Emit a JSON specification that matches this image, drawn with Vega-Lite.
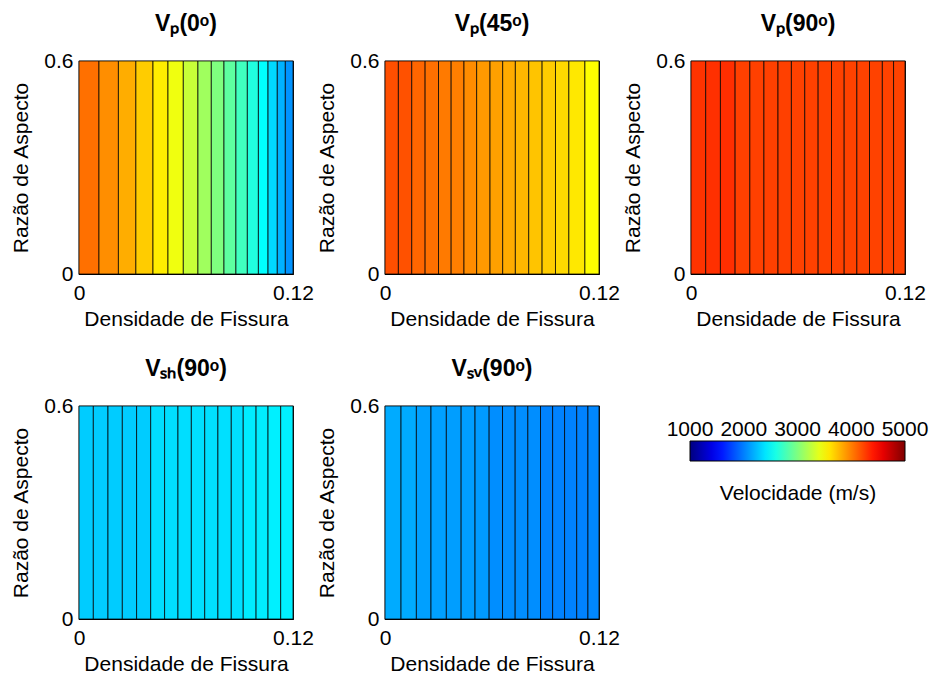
{
  "$schema": "https://vega.github.io/schema/vega-lite/v6.json",
  "background": "white",
  "padding": {"left": 10, "top": 12, "right": 5, "bottom": 5},
  "bounds": "flush",
  "columns": 3,
  "spacing": {"row": 132, "column": 92},
  "config": {
    "view": {"stroke": "black", "strokeWidth": 1.2},
    "font": "Liberation Sans",
    "axis": {"labelFont": "Liberation Sans", "labelFontSize": 21, "titleFont": "Liberation Sans", "titleFontSize": 21, "titleFontWeight": "normal", "labelColor": "black", "titleColor": "black", "ticks": false, "grid": false, "domain": false},
    "title": {"font": "Liberation Sans", "fontSize": 23, "fontWeight": "bold", "color": "black", "offset": 14},
    "legend": {"labelFont": "Liberation Sans", "titleFont": "Liberation Sans"}
  },
  "datasets": {
    "strips": [
      {"panel": "VP0", "x0": 0, "x1": 0.0112, "velocidade": 4060},
      {"panel": "VP0", "x0": 0.0112, "x1": 0.0221, "velocidade": 3940},
      {"panel": "VP0", "x0": 0.0221, "x1": 0.0319, "velocidade": 3820},
      {"panel": "VP0", "x0": 0.0319, "x1": 0.0415, "velocidade": 3700},
      {"panel": "VP0", "x0": 0.0415, "x1": 0.0499, "velocidade": 3570},
      {"panel": "VP0", "x0": 0.0499, "x1": 0.0585, "velocidade": 3440},
      {"panel": "VP0", "x0": 0.0585, "x1": 0.0667, "velocidade": 3280},
      {"panel": "VP0", "x0": 0.0667, "x1": 0.0742, "velocidade": 3130},
      {"panel": "VP0", "x0": 0.0742, "x1": 0.0813, "velocidade": 3000},
      {"panel": "VP0", "x0": 0.0813, "x1": 0.088, "velocidade": 2870},
      {"panel": "VP0", "x0": 0.088, "x1": 0.0944, "velocidade": 2750},
      {"panel": "VP0", "x0": 0.0944, "x1": 0.1006, "velocidade": 2625},
      {"panel": "VP0", "x0": 0.1006, "x1": 0.106, "velocidade": 2500},
      {"panel": "VP0", "x0": 0.106, "x1": 0.1112, "velocidade": 2350},
      {"panel": "VP0", "x0": 0.1112, "x1": 0.1157, "velocidade": 2200},
      {"panel": "VP0", "x0": 0.1157, "x1": 0.12, "velocidade": 2080},

      {"panel": "VP45", "x0": 0, "x1": 0.0075, "velocidade": 4190},
      {"panel": "VP45", "x0": 0.0075, "x1": 0.015, "velocidade": 4180},
      {"panel": "VP45", "x0": 0.015, "x1": 0.0225, "velocidade": 4100},
      {"panel": "VP45", "x0": 0.0225, "x1": 0.03, "velocidade": 4060},
      {"panel": "VP45", "x0": 0.03, "x1": 0.0371, "velocidade": 4020},
      {"panel": "VP45", "x0": 0.0371, "x1": 0.0443, "velocidade": 4000},
      {"panel": "VP45", "x0": 0.0443, "x1": 0.0514, "velocidade": 3950},
      {"panel": "VP45", "x0": 0.0514, "x1": 0.0589, "velocidade": 3900},
      {"panel": "VP45", "x0": 0.0589, "x1": 0.066, "velocidade": 3870},
      {"panel": "VP45", "x0": 0.066, "x1": 0.0731, "velocidade": 3830},
      {"panel": "VP45", "x0": 0.0731, "x1": 0.0806, "velocidade": 3780},
      {"panel": "VP45", "x0": 0.0806, "x1": 0.0881, "velocidade": 3730},
      {"panel": "VP45", "x0": 0.0881, "x1": 0.0956, "velocidade": 3700},
      {"panel": "VP45", "x0": 0.0956, "x1": 0.1031, "velocidade": 3650},
      {"panel": "VP45", "x0": 0.1031, "x1": 0.1121, "velocidade": 3590},
      {"panel": "VP45", "x0": 0.1121, "x1": 0.12, "velocidade": 3500},

      {"panel": "VP90", "x0": 0, "x1": 0.00825, "velocidade": 4300},
      {"panel": "VP90", "x0": 0.00825, "x1": 0.0165, "velocidade": 4310},
      {"panel": "VP90", "x0": 0.0165, "x1": 0.02475, "velocidade": 4320},
      {"panel": "VP90", "x0": 0.02475, "x1": 0.033, "velocidade": 4250},
      {"panel": "VP90", "x0": 0.033, "x1": 0.0409, "velocidade": 4250},
      {"panel": "VP90", "x0": 0.0409, "x1": 0.0488, "velocidade": 4250},
      {"panel": "VP90", "x0": 0.0488, "x1": 0.0563, "velocidade": 4250},
      {"panel": "VP90", "x0": 0.0563, "x1": 0.0638, "velocidade": 4245},
      {"panel": "VP90", "x0": 0.0638, "x1": 0.0713, "velocidade": 4245},
      {"panel": "VP90", "x0": 0.0713, "x1": 0.0788, "velocidade": 4245},
      {"panel": "VP90", "x0": 0.0788, "x1": 0.0859, "velocidade": 4245},
      {"panel": "VP90", "x0": 0.0859, "x1": 0.093, "velocidade": 4240},
      {"panel": "VP90", "x0": 0.093, "x1": 0.1001, "velocidade": 4240},
      {"panel": "VP90", "x0": 0.1001, "x1": 0.1073, "velocidade": 4240},
      {"panel": "VP90", "x0": 0.1073, "x1": 0.1136, "velocidade": 4240},
      {"panel": "VP90", "x0": 0.1136, "x1": 0.12, "velocidade": 4240},

      {"panel": "VSH90", "x0": 0, "x1": 0.00804, "velocidade": 2300},
      {"panel": "VSH90", "x0": 0.00804, "x1": 0.01626, "velocidade": 2300},
      {"panel": "VSH90", "x0": 0.01626, "x1": 0.0243, "velocidade": 2300},
      {"panel": "VSH90", "x0": 0.0243, "x1": 0.0323, "velocidade": 2300},
      {"panel": "VSH90", "x0": 0.0323, "x1": 0.0402, "velocidade": 2300},
      {"panel": "VSH90", "x0": 0.0402, "x1": 0.048, "velocidade": 2370},
      {"panel": "VSH90", "x0": 0.048, "x1": 0.0555, "velocidade": 2370},
      {"panel": "VSH90", "x0": 0.0555, "x1": 0.063, "velocidade": 2370},
      {"panel": "VSH90", "x0": 0.063, "x1": 0.0705, "velocidade": 2380},
      {"panel": "VSH90", "x0": 0.0705, "x1": 0.0779, "velocidade": 2380},
      {"panel": "VSH90", "x0": 0.0779, "x1": 0.0854, "velocidade": 2380},
      {"panel": "VSH90", "x0": 0.0854, "x1": 0.0921, "velocidade": 2380},
      {"panel": "VSH90", "x0": 0.0921, "x1": 0.0993, "velocidade": 2430},
      {"panel": "VSH90", "x0": 0.0993, "x1": 0.106, "velocidade": 2430},
      {"panel": "VSH90", "x0": 0.106, "x1": 0.1131, "velocidade": 2440},
      {"panel": "VSH90", "x0": 0.1131, "x1": 0.12, "velocidade": 2440},

      {"panel": "VSV90", "x0": 0, "x1": 0.00899, "velocidade": 2170},
      {"panel": "VSV90", "x0": 0.00899, "x1": 0.0176, "velocidade": 2170},
      {"panel": "VSV90", "x0": 0.0176, "x1": 0.0258, "velocidade": 2130},
      {"panel": "VSV90", "x0": 0.0258, "x1": 0.0344, "velocidade": 2130},
      {"panel": "VSV90", "x0": 0.0344, "x1": 0.0427, "velocidade": 2120},
      {"panel": "VSV90", "x0": 0.0427, "x1": 0.0505, "velocidade": 2120},
      {"panel": "VSV90", "x0": 0.0505, "x1": 0.0584, "velocidade": 2110},
      {"panel": "VSV90", "x0": 0.0584, "x1": 0.0659, "velocidade": 2060},
      {"panel": "VSV90", "x0": 0.0659, "x1": 0.073, "velocidade": 2060},
      {"panel": "VSV90", "x0": 0.073, "x1": 0.0801, "velocidade": 2060},
      {"panel": "VSV90", "x0": 0.0801, "x1": 0.0872, "velocidade": 2060},
      {"panel": "VSV90", "x0": 0.0872, "x1": 0.094, "velocidade": 2010},
      {"panel": "VSV90", "x0": 0.094, "x1": 0.1007, "velocidade": 2010},
      {"panel": "VSV90", "x0": 0.1007, "x1": 0.1075, "velocidade": 2010},
      {"panel": "VSV90", "x0": 0.1075, "x1": 0.1138, "velocidade": 2010},
      {"panel": "VSV90", "x0": 0.1138, "x1": 0.12, "velocidade": 2030}
    ]
  },
  "resolve": {"scale": {"color": "shared"}},
  "concat": [
    {
      "width": 214, "height": 213, "title": "Vₚ(0ᵒ)",
      "data": {"name": "strips"},
      "transform": [{"filter": "datum.panel == 'VP0'"}],
      "mark": {"type": "rect", "stroke": "black", "strokeWidth": 1, "strokeOpacity": 0.75},
      "encoding": {
        "x": {"field": "x0", "type": "quantitative", "scale": {"domain": [0, 0.12], "nice": false, "zero": false}, "axis": {"title": "Densidade de Fissura", "values": [0, 0.12], "labelExpr": "format(datum.value, '.2~f')", "labelPadding": 8, "titlePadding": 5, "labelFlush": false}},
        "x2": {"field": "x1"},
        "y": {"datum": 0, "type": "quantitative", "scale": {"domain": [0, 0.6], "nice": false}, "axis": {"title": "Razão de Aspecto", "values": [0, 0.6], "labelExpr": "format(datum.value, '.2~f')", "labelPadding": 6, "titlePadding": 12, "labelFlush": false}},
        "y2": {"datum": 0.6},
        "color": {"field": "velocidade", "type": "quantitative",
          "scale": {"domain": [1000, 1500, 2000, 2500, 3000, 3500, 4000, 4500, 5000], "range": ["#00007F", "#0000FF", "#007FFF", "#00FFFF", "#7FFF7F", "#FFFF00", "#FF7F00", "#FF0000", "#7F0000"], "interpolate": "rgb"},
          "legend": {"title": "Velocidade (m/s)", "orient": "none", "legendX": 611, "legendY": 380, "direction": "horizontal", "gradientLength": 215, "gradientThickness": 20, "values": [1000, 2000, 3000, 4000, 5000], "format": "d", "labelOverlap": false, "labelOffset": -42, "labelFontSize": 21, "labelColor": "black", "titleOrient": "bottom", "titleAnchor": "middle", "titleFontSize": 21, "titleFontWeight": "normal", "titleColor": "black", "titlePadding": 21, "gradientStrokeColor": "black", "gradientStrokeWidth": 1, "encoding": {"labels": {"align": {"value": "center"}}}}}
      }
    },
    {
      "width": 214, "height": 213, "title": "Vₚ(45ᵒ)",
      "data": {"name": "strips"},
      "transform": [{"filter": "datum.panel == 'VP45'"}],
      "mark": {"type": "rect", "stroke": "black", "strokeWidth": 1, "strokeOpacity": 0.75},
      "encoding": {
        "x": {"field": "x0", "type": "quantitative", "scale": {"domain": [0, 0.12], "nice": false, "zero": false}, "axis": {"title": "Densidade de Fissura", "values": [0, 0.12], "labelExpr": "format(datum.value, '.2~f')", "labelPadding": 8, "titlePadding": 5, "labelFlush": false}},
        "x2": {"field": "x1"},
        "y": {"datum": 0, "type": "quantitative", "scale": {"domain": [0, 0.6], "nice": false}, "axis": {"title": "Razão de Aspecto", "values": [0, 0.6], "labelExpr": "format(datum.value, '.2~f')", "labelPadding": 6, "titlePadding": 12, "labelFlush": false}},
        "y2": {"datum": 0.6},
        "color": {"field": "velocidade", "type": "quantitative",
          "scale": {"domain": [1000, 1500, 2000, 2500, 3000, 3500, 4000, 4500, 5000], "range": ["#00007F", "#0000FF", "#007FFF", "#00FFFF", "#7FFF7F", "#FFFF00", "#FF7F00", "#FF0000", "#7F0000"], "interpolate": "rgb"},
          "legend": {"title": "Velocidade (m/s)", "orient": "none", "legendX": 611, "legendY": 380, "direction": "horizontal", "gradientLength": 215, "gradientThickness": 20, "values": [1000, 2000, 3000, 4000, 5000], "format": "d", "labelOverlap": false, "labelOffset": -42, "labelFontSize": 21, "labelColor": "black", "titleOrient": "bottom", "titleAnchor": "middle", "titleFontSize": 21, "titleFontWeight": "normal", "titleColor": "black", "titlePadding": 21, "gradientStrokeColor": "black", "gradientStrokeWidth": 1, "encoding": {"labels": {"align": {"value": "center"}}}}}
      }
    },
    {
      "width": 214, "height": 213, "title": "Vₚ(90ᵒ)",
      "data": {"name": "strips"},
      "transform": [{"filter": "datum.panel == 'VP90'"}],
      "mark": {"type": "rect", "stroke": "black", "strokeWidth": 1, "strokeOpacity": 0.75},
      "encoding": {
        "x": {"field": "x0", "type": "quantitative", "scale": {"domain": [0, 0.12], "nice": false, "zero": false}, "axis": {"title": "Densidade de Fissura", "values": [0, 0.12], "labelExpr": "format(datum.value, '.2~f')", "labelPadding": 8, "titlePadding": 5, "labelFlush": false}},
        "x2": {"field": "x1"},
        "y": {"datum": 0, "type": "quantitative", "scale": {"domain": [0, 0.6], "nice": false}, "axis": {"title": "Razão de Aspecto", "values": [0, 0.6], "labelExpr": "format(datum.value, '.2~f')", "labelPadding": 6, "titlePadding": 12, "labelFlush": false}},
        "y2": {"datum": 0.6},
        "color": {"field": "velocidade", "type": "quantitative",
          "scale": {"domain": [1000, 1500, 2000, 2500, 3000, 3500, 4000, 4500, 5000], "range": ["#00007F", "#0000FF", "#007FFF", "#00FFFF", "#7FFF7F", "#FFFF00", "#FF7F00", "#FF0000", "#7F0000"], "interpolate": "rgb"},
          "legend": {"title": "Velocidade (m/s)", "orient": "none", "legendX": 611, "legendY": 380, "direction": "horizontal", "gradientLength": 215, "gradientThickness": 20, "values": [1000, 2000, 3000, 4000, 5000], "format": "d", "labelOverlap": false, "labelOffset": -42, "labelFontSize": 21, "labelColor": "black", "titleOrient": "bottom", "titleAnchor": "middle", "titleFontSize": 21, "titleFontWeight": "normal", "titleColor": "black", "titlePadding": 21, "gradientStrokeColor": "black", "gradientStrokeWidth": 1, "encoding": {"labels": {"align": {"value": "center"}}}}}
      }
    },
    {
      "width": 214, "height": 213, "title": "Vₛₕ(90ᵒ)",
      "data": {"name": "strips"},
      "transform": [{"filter": "datum.panel == 'VSH90'"}],
      "mark": {"type": "rect", "stroke": "black", "strokeWidth": 1, "strokeOpacity": 0.75},
      "encoding": {
        "x": {"field": "x0", "type": "quantitative", "scale": {"domain": [0, 0.12], "nice": false, "zero": false}, "axis": {"title": "Densidade de Fissura", "values": [0, 0.12], "labelExpr": "format(datum.value, '.2~f')", "labelPadding": 8, "titlePadding": 5, "labelFlush": false}},
        "x2": {"field": "x1"},
        "y": {"datum": 0, "type": "quantitative", "scale": {"domain": [0, 0.6], "nice": false}, "axis": {"title": "Razão de Aspecto", "values": [0, 0.6], "labelExpr": "format(datum.value, '.2~f')", "labelPadding": 6, "titlePadding": 12, "labelFlush": false}},
        "y2": {"datum": 0.6},
        "color": {"field": "velocidade", "type": "quantitative",
          "scale": {"domain": [1000, 1500, 2000, 2500, 3000, 3500, 4000, 4500, 5000], "range": ["#00007F", "#0000FF", "#007FFF", "#00FFFF", "#7FFF7F", "#FFFF00", "#FF7F00", "#FF0000", "#7F0000"], "interpolate": "rgb"},
          "legend": {"title": "Velocidade (m/s)", "orient": "none", "legendX": 611, "legendY": 380, "direction": "horizontal", "gradientLength": 215, "gradientThickness": 20, "values": [1000, 2000, 3000, 4000, 5000], "format": "d", "labelOverlap": false, "labelOffset": -42, "labelFontSize": 21, "labelColor": "black", "titleOrient": "bottom", "titleAnchor": "middle", "titleFontSize": 21, "titleFontWeight": "normal", "titleColor": "black", "titlePadding": 21, "gradientStrokeColor": "black", "gradientStrokeWidth": 1, "encoding": {"labels": {"align": {"value": "center"}}}}}
      }
    },
    {
      "width": 214, "height": 213, "title": "Vₛᵥ(90ᵒ)",
      "data": {"name": "strips"},
      "transform": [{"filter": "datum.panel == 'VSV90'"}],
      "mark": {"type": "rect", "stroke": "black", "strokeWidth": 1, "strokeOpacity": 0.75},
      "encoding": {
        "x": {"field": "x0", "type": "quantitative", "scale": {"domain": [0, 0.12], "nice": false, "zero": false}, "axis": {"title": "Densidade de Fissura", "values": [0, 0.12], "labelExpr": "format(datum.value, '.2~f')", "labelPadding": 8, "titlePadding": 5, "labelFlush": false}},
        "x2": {"field": "x1"},
        "y": {"datum": 0, "type": "quantitative", "scale": {"domain": [0, 0.6], "nice": false}, "axis": {"title": "Razão de Aspecto", "values": [0, 0.6], "labelExpr": "format(datum.value, '.2~f')", "labelPadding": 6, "titlePadding": 12, "labelFlush": false}},
        "y2": {"datum": 0.6},
        "color": {"field": "velocidade", "type": "quantitative",
          "scale": {"domain": [1000, 1500, 2000, 2500, 3000, 3500, 4000, 4500, 5000], "range": ["#00007F", "#0000FF", "#007FFF", "#00FFFF", "#7FFF7F", "#FFFF00", "#FF7F00", "#FF0000", "#7F0000"], "interpolate": "rgb"},
          "legend": {"title": "Velocidade (m/s)", "orient": "none", "legendX": 611, "legendY": 380, "direction": "horizontal", "gradientLength": 215, "gradientThickness": 20, "values": [1000, 2000, 3000, 4000, 5000], "format": "d", "labelOverlap": false, "labelOffset": -42, "labelFontSize": 21, "labelColor": "black", "titleOrient": "bottom", "titleAnchor": "middle", "titleFontSize": 21, "titleFontWeight": "normal", "titleColor": "black", "titlePadding": 21, "gradientStrokeColor": "black", "gradientStrokeWidth": 1, "encoding": {"labels": {"align": {"value": "center"}}}}}
      }
    }
  ]
}
